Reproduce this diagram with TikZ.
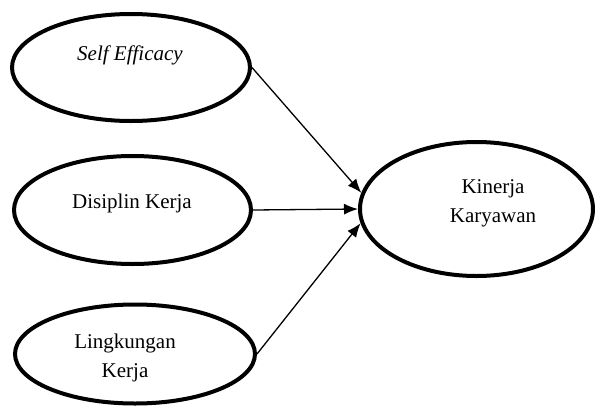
\documentclass[tikz,border=0pt]{standalone}
\usepackage{fontspec}
\setmainfont{Liberation Serif}
\usepackage{tikz}
\usetikzlibrary{arrows.meta,positioning,shapes}

\begin{document}
\begin{tikzpicture}[x=1pt,y=-1pt]
\tikzstyle{var}=[draw=black,ellipse,line width=4pt,inner sep=0pt]
\tikzstyle{txt}=[align=center,font=\fontsize{21}{29}\selectfont]
\tikzstyle{arrow}=[line width=1.3pt,-{Latex[length=14pt,width=11pt]}]
\useasboundingbox (0,0) rectangle (595,410);
\node [var,minimum width=238pt,minimum height=107pt] at (131,67.5) (se) {};
\node [var,minimum width=237pt,minimum height=108pt] at (132.5,210) (dk) {};
\node [var,minimum width=240pt,minimum height=99pt] at (135,354) (lk) {};
\node [var,minimum width=233pt,minimum height=134pt] at (476.5,209) (kk) {};

\node [txt] at (130,55) (tse) {\textit{Self Efficacy}};
\node [txt] at (132,203) (tdk) {Disiplin Kerja};
\node [txt] at (125,358) (tlk) {Lingkungan\\Kerja};
\node [txt] at (493,203) (tkk) {Kinerja\\Karyawan};

\draw [arrow] (se.east) -- (kk.172);
\draw [arrow] (dk.east) -- (kk.west);
\draw [arrow] (lk.east) -- (kk.187);
\end{tikzpicture}
\end{document}
